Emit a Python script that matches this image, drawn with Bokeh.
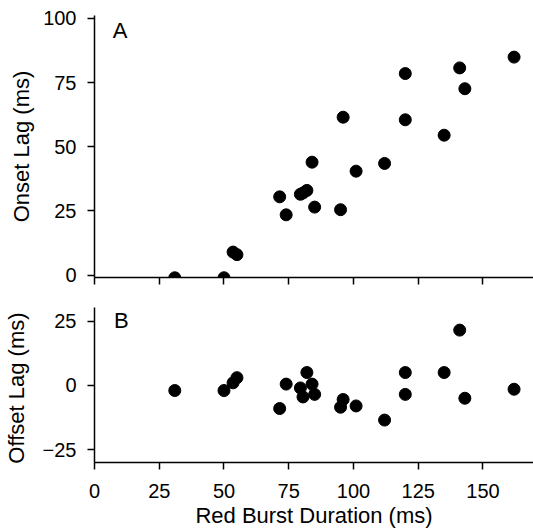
from bokeh.plotting import figure
from bokeh.layouts import column
from bokeh.models import Range1d, Label, FixedTicker, ColumnDataSource
from bokeh.embed import file_html
from bokeh.resources import INLINE

# ---- data ----
durations = [31, 50, 53.5, 55, 71.5, 74, 79.5, 80.5, 82, 84, 85, 95, 96, 101, 112, 120, 120, 135, 141, 143, 162]
onset_lag = [-1, -1, 9, 8, 30.5, 23.5, 31.5, 32, 33, 44, 26.5, 25.5, 61.5, 40.5, 43.5, 78.5, 60.5, 54.5, 80.7, 72.6, 84.9]
offset_lag = [-2, -2, 1, 3, -9, 0.5, -1, -4.5, 5, 0.5, -3.5, -8.5, -5.5, -8, -13.5, 5, -3.5, 5, 21.5, -5, -1.5]

x_ticks = [0, 25, 50, 75, 100, 125, 150]
onset_ticks = [0, 25, 50, 75, 100]
offset_ticks = [-25, 0, 25]

FONT = "Liberation Sans"
src = ColumnDataSource(dict(d=durations, on=onset_lag, off=offset_lag))


def style(p):
    p.grid.visible = False
    p.outline_line_color = None
    p.background_fill_color = "white"
    p.border_fill_color = "white"
    for ax in p.axis:
        ax.axis_line_width = 1.5
        ax.axis_line_color = "black"
        ax.major_tick_line_width = 1.5
        ax.major_tick_line_color = "black"
        ax.minor_tick_line_color = None
        ax.major_tick_out = 7
        ax.major_tick_in = 0
        ax.major_label_text_font = FONT
        ax.major_label_text_font_size = "20px"
        ax.major_label_text_color = "black"
        ax.axis_label_text_font = FONT
        ax.axis_label_text_font_size = "22px"
        ax.axis_label_text_font_style = "normal"
        ax.axis_label_text_color = "black"


x_end = 169.5

p1 = figure(width=533, height=292, output_backend="svg", toolbar_location=None,
            x_range=Range1d(0, x_end), y_range=Range1d(-0.9, 101.1),
            min_border_left=94, min_border_right=0, min_border_top=15, min_border_bottom=15)
style(p1)
p1.xaxis.ticker = FixedTicker(ticks=x_ticks)
p1.xaxis.major_label_overrides = {t: "" for t in x_ticks}
p1.xaxis.major_label_standoff = 0
p1.yaxis.ticker = FixedTicker(ticks=onset_ticks)
p1.yaxis.major_label_standoff = 11
p1.yaxis.axis_label = "Onset Lag (ms)"
p1.yaxis.axis_label_standoff = 6
p1.scatter("d", "on", source=src, size=12, color="black")
p1.add_layout(Label(x=7, y=95.3, text="A", text_font=FONT, text_font_size="22px",
                    text_color="black", text_baseline="alphabetic"))

p2 = figure(width=533, height=238, output_backend="svg", toolbar_location=None,
            x_range=p1.x_range, y_range=Range1d(-30, 30.3),
            min_border_left=94, min_border_right=0, min_border_top=15, min_border_bottom=68)
style(p2)
p2.xaxis.ticker = FixedTicker(ticks=x_ticks)
p2.xaxis.major_label_standoff = 14
p2.xaxis.axis_label = "Red Burst Duration (ms)"
p2.xaxis.axis_label_standoff = 2
p2.yaxis.ticker = FixedTicker(ticks=offset_ticks)
p2.yaxis.major_label_standoff = 11
p2.yaxis.axis_label = "Offset Lag  (ms)"
p2.yaxis.axis_label_standoff = 11
p2.scatter("d", "off", source=src, size=12, color="black")
p2.add_layout(Label(x=7.5, y=25.3, text="B", text_font=FONT, text_font_size="22px",
                    text_color="black", text_baseline="alphabetic"))

layout = column(p1, p2, spacing=0)
open("out.html", "w").write(file_html(layout, INLINE))
